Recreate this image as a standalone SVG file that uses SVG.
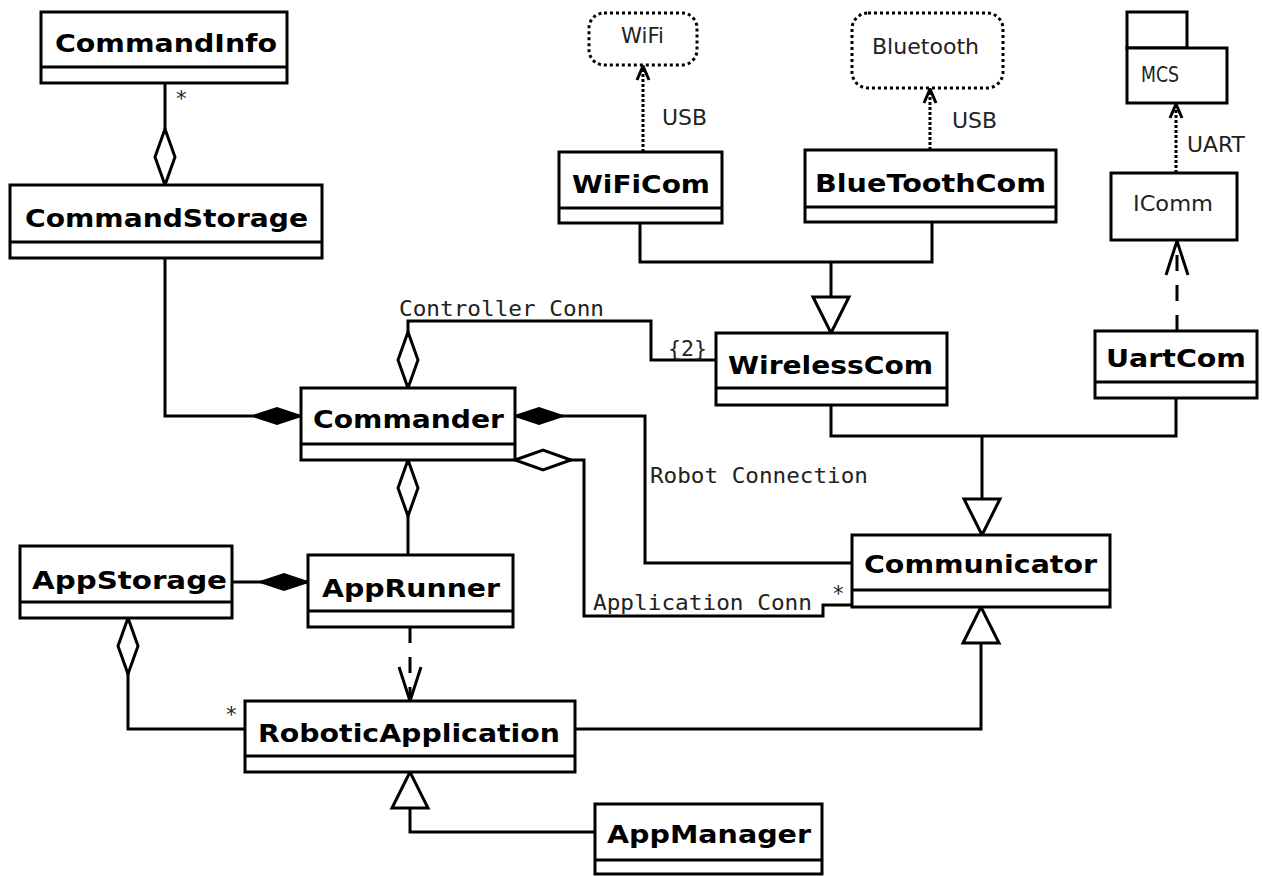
<svg xmlns="http://www.w3.org/2000/svg" width="1262" height="876" viewBox="0 0 1262 876">
<style>
.box{fill:#fff;stroke:#000;stroke-width:3}
.sep{stroke:#000;stroke-width:3}
.cls{font-family:"DejaVu Sans","Liberation Sans",sans-serif;font-weight:bold;font-size:24px;fill:#000}
.lbl{font-family:"DejaVu Sans","Liberation Sans",sans-serif;font-size:21px;fill:#222}
.mono{font-family:"DejaVu Sans Mono","Liberation Mono",monospace;font-size:21px;fill:#222}
.ln{fill:none;stroke:#000;stroke-width:3}
.dot{fill:none;stroke:#000;stroke-width:3;stroke-dasharray:3 2}
.dash{fill:none;stroke:#000;stroke-width:3;stroke-dasharray:16 14}
.rbox{fill:#fff;stroke:#000;stroke-width:3;stroke-dasharray:3 3}
</style>
<defs>
<marker id="hdia" markerUnits="userSpaceOnUse" viewBox="-3 -14 62 28" markerWidth="62" markerHeight="28" refX="0" refY="0" orient="auto">
<path d="M0,0 L28,-10 L56,0 L28,10 Z" fill="#fff" stroke="#000" stroke-width="3"/>
</marker>
<marker id="fdia" markerUnits="userSpaceOnUse" viewBox="-3 -12 56 24" markerWidth="56" markerHeight="24" refX="0" refY="0" orient="auto">
<path d="M0,0 L24,-8 L48,0 L24,8 Z" fill="#000" stroke="#000" stroke-width="2"/>
</marker>
<marker id="tri" markerUnits="userSpaceOnUse" viewBox="-40 -22 44 44" markerWidth="44" markerHeight="44" refX="0" refY="0" orient="auto">
<path d="M0,0 L-36,-18 L-36,18 Z" fill="#fff" stroke="#000" stroke-width="3"/>
</marker>
<marker id="open" markerUnits="userSpaceOnUse" viewBox="-40 -16 44 32" markerWidth="44" markerHeight="32" refX="0" refY="0" orient="auto">
<path d="M-34,-11 L0,0 L-34,11" fill="none" stroke="#000" stroke-width="3"/>
</marker>
<marker id="sopen" markerUnits="userSpaceOnUse" viewBox="-20 -10 24 20" markerWidth="24" markerHeight="20" refX="0" refY="0" orient="auto">
<path d="M-14,-6 L0,0 L-14,6" fill="none" stroke="#000" stroke-width="3"/>
</marker>
</defs>

<g id="connectors">
<path class="ln" d="M165,185 V83" marker-start="url(#hdia)"/>
<text class="mono" x="175" y="106">*</text>
<path class="ln" d="M301,416 H165 V258" marker-start="url(#fdia)"/>
<path class="ln" d="M408,388 V321 H651 V360 H716" marker-start="url(#hdia)"/>
<text class="mono" x="399" y="316" textLength="205" lengthAdjust="spacingAndGlyphs">Controller Conn</text>
<text class="mono" x="668" y="356" textLength="39" lengthAdjust="spacingAndGlyphs">{2}</text>
<path class="ln" d="M515,416 H645 V563 H852" marker-start="url(#fdia)"/>
<text class="mono" x="650" y="483" textLength="218" lengthAdjust="spacingAndGlyphs">Robot Connection</text>
<path class="ln" d="M515,460 H584 V616 H823 V605 H852" marker-start="url(#hdia)"/>
<text class="mono" x="593" y="610" textLength="219" lengthAdjust="spacingAndGlyphs">Application Conn</text>
<text class="mono" x="832" y="601">*</text>
<path class="ln" d="M640,223 V262 H932 V222"/>
<path class="ln" d="M831,262 V333" marker-end="url(#tri)"/>
<path class="dot" d="M643,152 V66" marker-end="url(#sopen)"/>
<text class="lbl" x="662" y="125" textLength="45" lengthAdjust="spacingAndGlyphs">USB</text>
<path class="dot" d="M930,150 V89" marker-end="url(#sopen)"/>
<text class="lbl" x="952" y="128" textLength="45" lengthAdjust="spacingAndGlyphs">USB</text>
<path class="dot" d="M1176,173 V104" marker-end="url(#sopen)"/>
<text class="lbl" x="1187" y="152" textLength="58" lengthAdjust="spacingAndGlyphs">UART</text>
<path class="dash" d="M1177,331 V241" marker-end="url(#open)"/>
<path class="ln" d="M831,405 V436 H1176 V398"/>
<path class="ln" d="M982,436 V535" marker-end="url(#tri)"/>
<path class="ln" d="M575,729 H981 V607" marker-end="url(#tri)"/>
<path class="ln" d="M595,832 H410 V772" marker-end="url(#tri)"/>
<path class="ln" d="M308,582 H232" marker-start="url(#fdia)"/>
<path class="ln" d="M408,460 V555" marker-start="url(#hdia)"/>
<path class="dash" d="M410,627 V701" marker-end="url(#open)"/>
<path class="ln" d="M128,618 V729 H245" marker-start="url(#hdia)"/>
<text class="mono" x="225" y="722">*</text>
</g>

<g id="CommandInfo">
<rect class="box" x="41" y="12" width="246" height="71"/>
<line class="sep" x1="41" y1="67" x2="287" y2="67"/>
<text class="cls" x="55" y="52" textLength="222" lengthAdjust="spacingAndGlyphs">CommandInfo</text>
</g>
<g id="CommandStorage">
<rect class="box" x="10" y="185" width="312" height="73"/>
<line class="sep" x1="10" y1="242" x2="322" y2="242"/>
<text class="cls" x="25" y="227" textLength="283" lengthAdjust="spacingAndGlyphs">CommandStorage</text>
</g>
<g id="Commander">
<rect class="box" x="301" y="388" width="214" height="72"/>
<line class="sep" x1="301" y1="444" x2="515" y2="444"/>
<text class="cls" x="313" y="428" textLength="191" lengthAdjust="spacingAndGlyphs">Commander</text>
</g>
<g id="WiFiCom">
<rect class="box" x="559" y="152" width="163" height="71"/>
<line class="sep" x1="559" y1="208" x2="722" y2="208"/>
<text class="cls" x="572" y="193" textLength="138" lengthAdjust="spacingAndGlyphs">WiFiCom</text>
</g>
<g id="BlueToothCom">
<rect class="box" x="805" y="150" width="251" height="72"/>
<line class="sep" x1="805" y1="207" x2="1056" y2="207"/>
<text class="cls" x="815" y="192" textLength="231" lengthAdjust="spacingAndGlyphs">BlueToothCom</text>
</g>
<g id="WirelessCom">
<rect class="box" x="716" y="333" width="231" height="72"/>
<line class="sep" x1="716" y1="388" x2="947" y2="388"/>
<text class="cls" x="728" y="374" textLength="205" lengthAdjust="spacingAndGlyphs">WirelessCom</text>
</g>
<g id="UartCom">
<rect class="box" x="1095" y="331" width="162" height="67"/>
<line class="sep" x1="1095" y1="382" x2="1257" y2="382"/>
<text class="cls" x="1106" y="367" textLength="140" lengthAdjust="spacingAndGlyphs">UartCom</text>
</g>
<g id="Communicator">
<rect class="box" x="852" y="535" width="258" height="72"/>
<line class="sep" x1="852" y1="590" x2="1110" y2="590"/>
<text class="cls" x="864" y="573" textLength="233" lengthAdjust="spacingAndGlyphs">Communicator</text>
</g>
<g id="AppStorage">
<rect class="box" x="20" y="546" width="212" height="72"/>
<line class="sep" x1="20" y1="602" x2="232" y2="602"/>
<text class="cls" x="32" y="589" textLength="195" lengthAdjust="spacingAndGlyphs">AppStorage</text>
</g>
<g id="AppRunner">
<rect class="box" x="308" y="555" width="205" height="72"/>
<line class="sep" x1="308" y1="611" x2="513" y2="611"/>
<text class="cls" x="322" y="597" textLength="178" lengthAdjust="spacingAndGlyphs">AppRunner</text>
</g>
<g id="RoboticApplication">
<rect class="box" x="245" y="701" width="330" height="71"/>
<line class="sep" x1="245" y1="756" x2="575" y2="756"/>
<text class="cls" x="258" y="742" textLength="302" lengthAdjust="spacingAndGlyphs">RoboticApplication</text>
</g>
<g id="AppManager">
<rect class="box" x="595" y="804" width="227" height="70"/>
<line class="sep" x1="595" y1="860" x2="822" y2="860"/>
<text class="cls" x="607" y="843" textLength="204" lengthAdjust="spacingAndGlyphs">AppManager</text>
</g>
<g id="WiFi">
<rect class="rbox" x="589" y="13" width="108" height="52" rx="15"/>
<text class="lbl" x="621" y="43" font-size="22" textLength="43" lengthAdjust="spacingAndGlyphs">WiFi</text>
</g>
<g id="Bluetooth">
<rect class="rbox" x="852" y="13" width="151" height="75" rx="16"/>
<text class="lbl" x="872" y="54" font-size="23" textLength="107" lengthAdjust="spacingAndGlyphs">Bluetooth</text>
</g>
<g id="MCS">
<rect class="box" x="1127" y="12" width="60" height="36"/>
<rect class="box" x="1127" y="48" width="100" height="55"/>
<text class="lbl" x="1141" y="82" font-size="22" textLength="38" lengthAdjust="spacingAndGlyphs">MCS</text>
</g>
<g id="IComm">
<rect class="box" x="1111" y="173" width="126" height="67"/>
<text class="lbl" x="1133" y="211" font-size="22" textLength="80" lengthAdjust="spacingAndGlyphs">IComm</text>
</g>
</svg>
